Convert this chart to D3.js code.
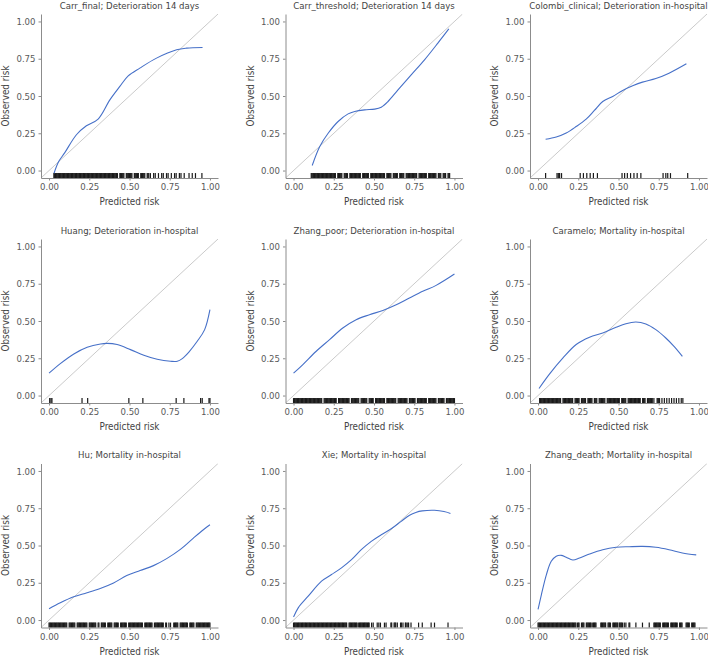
<!DOCTYPE html>
<html>
<head>
<meta charset="utf-8">
<script src="https://cdn.jsdelivr.net/npm/d3@7"></script>
<style>
  html, body { margin: 0; padding: 0; background: #fff; }
  svg text { font-family: "Liberation Sans Narrow", "DejaVu Sans Condensed", "Roboto", sans-serif; }
</style>
</head>
<body>
<svg id="chart" width="708" height="657"></svg>
<script>
// ---------- data ----------
const titles = [
  "Carr_final; Deterioration 14 days",
  "Carr_threshold; Deterioration 14 days",
  "Colombi_clinical; Deterioration in-hospital",
  "Huang; Deterioration in-hospital",
  "Zhang_poor; Deterioration in-hospital",
  "Caramelo; Mortality in-hospital",
  "Hu; Mortality in-hospital",
  "Xie; Mortality in-hospital",
  "Zhang_death; Mortality in-hospital"
];
const tickValues = [0, 0.25, 0.5, 0.75, 1];
const xLabel = "Predicted risk";
const yLabel = "Observed risk";

// calibration curves (predicted, observed)
const carrFinalX = [0.031, 0.06, 0.098, 0.17, 0.232, 0.305, 0.378, 0.44, 0.492, 0.564, 0.668, 0.793, 0.855, 0.954];
const carrFinalY = [-0.018, 0.06, 0.12, 0.24, 0.30, 0.345, 0.474, 0.564, 0.635, 0.687, 0.754, 0.81, 0.821, 0.825];

const carrThresholdX = [0.116, 0.163, 0.215, 0.277, 0.339, 0.38, 0.442, 0.504, 0.545, 0.587, 0.649, 0.731, 0.814, 0.897, 0.965];
const carrThresholdY = [0.034, 0.161, 0.25, 0.329, 0.38, 0.396, 0.407, 0.412, 0.425, 0.463, 0.541, 0.642, 0.743, 0.855, 0.95];

const colombiX = [0.047, 0.113, 0.175, 0.237, 0.299, 0.35, 0.402, 0.464, 0.526, 0.588, 0.649, 0.732, 0.814, 0.922];
const colombiY = [0.21, 0.225, 0.252, 0.295, 0.345, 0.403, 0.463, 0.497, 0.537, 0.568, 0.593, 0.617, 0.653, 0.716];

const huangX = [0.0, 0.07, 0.154, 0.237, 0.32, 0.361, 0.423, 0.506, 0.589, 0.672, 0.755, 0.797, 0.828, 0.869, 0.921, 0.967, 1.0];
const huangY = [0.15, 0.214, 0.279, 0.324, 0.346, 0.35, 0.342, 0.308, 0.27, 0.243, 0.23, 0.23, 0.248, 0.292, 0.364, 0.442, 0.576];

const zhangPoorX = [0.0, 0.058, 0.141, 0.224, 0.306, 0.389, 0.472, 0.555, 0.638, 0.72, 0.803, 0.886, 1.0];
const zhangPoorY = [0.15, 0.208, 0.297, 0.375, 0.453, 0.509, 0.542, 0.571, 0.609, 0.654, 0.699, 0.739, 0.815];

const carameloX = [0.006, 0.072, 0.155, 0.237, 0.32, 0.402, 0.485, 0.546, 0.608, 0.67, 0.732, 0.794, 0.845, 0.897];
const carameloY = [0.047, 0.145, 0.252, 0.342, 0.391, 0.42, 0.458, 0.482, 0.493, 0.48, 0.442, 0.386, 0.33, 0.263];

const huX = [0.0, 0.07, 0.153, 0.236, 0.318, 0.401, 0.483, 0.566, 0.649, 0.731, 0.814, 0.897, 0.959, 1.0];
const huY = [0.076, 0.116, 0.156, 0.183, 0.212, 0.249, 0.298, 0.332, 0.365, 0.412, 0.472, 0.55, 0.606, 0.639];

const xieX = [0.0, 0.029, 0.091, 0.174, 0.236, 0.298, 0.36, 0.421, 0.483, 0.545, 0.607, 0.669, 0.721, 0.76, 0.8, 0.876, 0.935, 0.975];
const xieY = [0.02, 0.082, 0.16, 0.261, 0.305, 0.35, 0.405, 0.472, 0.528, 0.572, 0.612, 0.662, 0.703, 0.722, 0.732, 0.736, 0.728, 0.715];

const zhangDeathX = [0.0, 0.021, 0.052, 0.082, 0.113, 0.144, 0.175, 0.216, 0.258, 0.32, 0.402, 0.485, 0.567, 0.649, 0.732, 0.814, 0.897, 0.983];
const zhangDeathY = [0.071, 0.171, 0.305, 0.394, 0.428, 0.434, 0.421, 0.403, 0.416, 0.443, 0.472, 0.488, 0.492, 0.494, 0.488, 0.472, 0.45, 0.437];

// rug (individual predicted risks)
const carrFinalRug = [
  .030,.035,.040,.045,.050,.055,.060,.065,.070,.075,.080,.085,.090,.095,.100,.105,.110,.115,.120,.125,
  .130,.135,.140,.145,.150,.155,.160,.165,.170,.175,.180,.185,.190,.195,.200,.205,.210,.215,.220,.225,
  .230,.235,.240,.245,.250,.255,.260,.265,.270,.275,.280,.285,.290,.295,.300,.305,.310,.315,.320,.325,
  .330,.335,.340,.345,.350,.355,.360,.365,.370,.375,.380,.385,.390,.395,.400,
  .405,.41,.415,.42,.425,.44,.445,.45,.455,.46,.465,.48,.485,.49,.495,.50,.505,.51,.515,.53,.535,.54,.545,.55,.555,
  .57,.575,.58,.585,.59,.595,.61,.615,.62,
  .63,.65,.66,.68,.70,.71,.73,.74,.76,.78,.79,.81,.82,.84,.87,.89,.91,.95];
const carrThresholdRug = [
  .110,.115,.120,.125,.130,.135,.140,.145,.150,.155,.160,.165,.170,.175,.180,.185,.190,.195,.200,.205,
  .210,.215,.220,.225,.230,.235,.240,.245,.250,.255,.260,
  .275,.28,.285,.29,.295,.30,.315,.32,.325,.33,.335,.35,.355,.36,.365,.37,.375,.38,.385,.39,.395,.40,.405,.41,.415,
  .43,.435,.44,.445,.45,.455,.46,.465,.48,.485,.49,.495,.50,.505,.51,.515,.52,.525,.53,.535,.54,.545,.55,.555,.56,.565,
  .58,.585,.59,.595,.60,.605,.62,.625,.63,.635,.64,.645,.66,.665,.67,.675,.68,.685,
  .70,.705,.71,.715,.72,.725,.73,.735,.74,.745,.75,.755,.76,.765,.78,.785,.79,.795,.80,.805,.81,.815,.82,.825,
  .84,.845,.85,.855,.86,.865,.87,.875,.88,.885,.90,.905,.91,.915,.93,.935,.94,.945,.96,.965,.97];
const colombiRug = [0.047,0.118,0.126,0.134,0.146,0.262,0.282,0.303,0.324,0.344,0.369,0.522,0.538,0.555,0.575,0.596,0.616,0.639,0.777,0.794,0.806,0.823,0.93];
const huangRug = [0.004,0.012,0.018,0.205,0.24,0.496,0.583,0.79,0.838,0.942,0.952,0.994,1.0];
const zhangPoorRug = [
  .000,.005,.010,.015,.020,.025,.030,.035,.040,.045,.050,.055,.060,.065,.070,.075,.080,.085,.090,.095,
  .100,.105,.110,.115,.120,.125,.130,.135,.140,.145,.150,.155,.160,.165,.170,.175,
  .19,.195,.20,.205,.21,.215,.22,.225,.23,.235,.24,.245,.25,.255,.26,.265,
  .28,.285,.29,.295,.30,.305,.31,.315,.32,.325,.33,.335,.34,.345,.36,.365,.37,.375,.38,.385,.39,.395,.40,.405,
  .42,.425,.43,.435,.44,.445,.45,.455,.47,.475,.48,.485,.49,.495,.51,.515,.52,.525,.53,.535,.54,.545,.55,.555,.56,.565,
  .58,.585,.59,.595,.60,.605,.61,.615,.62,.625,.63,.635,.65,.655,.66,.665,.67,.675,.68,.685,.69,.695,.70,.705,
  .72,.725,.73,.735,.74,.745,.75,.755,.77,.775,.78,.785,.79,.795,.80,.805,.81,.815,.82,.825,
  .84,.845,.85,.855,.86,.865,.87,.875,.88,.885,.90,.905,.91,.915,.92,.925,.93,.935,.95,.955,.96,.965,.97,.975,.98,.985,.99,.995,1.00];
const carameloRug = [
  .010,.015,.020,.025,.030,.035,.040,.045,.050,.055,.060,.065,.070,.075,.080,.085,.090,.095,.100,.105,
  .110,.115,.120,.125,.130,.135,.140,
  .155,.16,.165,.17,.175,.18,.185,.19,.195,.20,.205,.21,.215,.23,.235,.24,.245,.25,.255,.27,.275,.28,.285,.29,.295,
  .31,.315,.32,.325,.33,.335,.35,.355,.36,.365,.38,.385,.39,.395,.40,.405,.41,.415,
  .43,.435,.44,.445,.45,.455,.46,.465,.47,.475,.48,.485,.49,.495,.50,.505,.52,.525,.53,.535,.54,.545,
  .56,.565,.57,.575,.58,.585,.59,.595,.60,.605,.61,.615,.62,.625,.63,.635,.65,.655,.66,.665,
  .68,.685,.69,.695,.70,.705,.71,.72,.74,.745,.75,.755,.77,.785,.80,.815,.83,.845,.86,.875,.89,.90];
const huRug = [
  .000,.005,.010,.015,.020,.025,.030,.035,.040,.045,.050,.055,.060,.065,.070,
  .075,.08,.085,.09,.095,.10,.105,.11,.125,.13,.135,.14,.145,.15,.155,.16,.175,.18,.185,.19,.195,.20,.205,.21,.215,.22,.225,.23,.235,
  .25,.255,.26,.265,.27,.275,.28,.285,.29,.305,.31,.325,.33,.335,.34,.345,.35,.365,.37,.375,.38,.385,.39,
  .405,.41,.415,.42,.425,.43,.445,.45,.455,.46,.465,.47,.475,.48,.495,.50,.505,.51,.515,.52,.525,.53,.535,.54,.545,.55,.555,.56,.565,.57,.575,.58,
  .595,.60,.605,.61,.615,.62,.625,.63,.635,.64,.655,.66,.665,.67,.675,.68,.685,.69,.695,.70,.705,.71,.725,.73,.745,.755,
  .775,.78,.785,.79,.795,.80,.815,.82,.825,.83,.835,.84,.845,.85,.855,.86,.875,.88,.885,.89,.895,.90,
  .915,.92,.925,.93,.935,.94,.945,.95,.955,.96,.965,.97,.975,.98,.985,.99,.995,1.00];
const xieRug = [
  .000,.005,.010,.015,.020,.025,.030,.035,.040,.045,.050,.055,.060,.065,.070,.075,.080,.085,.090,.095,
  .100,.105,.110,.115,.120,.125,.130,.135,.140,.145,.150,.155,.160,.165,.170,.175,.180,.185,.190,.195,
  .200,.205,.210,.215,.220,.225,.230,.235,.240,.245,.250,.255,.260,.265,.270,.275,.280,
  .285,.29,.295,.30,.305,.31,.315,.32,.325,.33,.345,.35,.355,.36,.365,.37,.375,.38,.385,.39,.395,
  .405,.41,.415,.42,.425,.43,.435,.44,.445,.45,.455,.46,.465,.47,
  .485,.495,.52,.53,.54,.565,.575,.605,.61,.625,.63,.635,.645,.665,.67,.68,.695,.70,.71,.715,.73,.777,.80,.855,.876,.96];
const zhangDeathRug = [
  .000,.005,.010,.015,.020,.025,.030,.035,.040,.045,.050,.055,.060,.065,.070,.075,.080,.085,.090,.095,
  .100,.105,.110,.115,.120,.125,.130,.135,.140,.145,.150,.155,.160,.165,.170,.175,.180,.185,.190,.195,.200,
  .205,.21,.215,.22,.225,.23,.235,.245,.25,.255,.27,.275,.28,.285,.30,.305,.31,.315,.32,.325,.33,
  .34,.345,.35,.355,.36,.39,.395,.40,.405,.41,.415,.42,.435,.44,.445,.45,.465,.47,.475,.48,.485,.49,.495,
  .505,.51,.515,.52,.525,.536,.546,.565,.57,.608,.649,.691,
  .72,.725,.73,.735,.74,.745,.75,.755,.76,.775,.78,.785,.79,.795,.80,.805,.81,
  .825,.83,.835,.84,.845,.85,.855,.86,.865,.88,.885,.89,.895,.92,.925,.93,.935,.94,.955,.96,.965,.97,.975];

const curveXs = [carrFinalX, carrThresholdX, colombiX, huangX, zhangPoorX, carameloX, huX, xieX, zhangDeathX];
const curveYs = [carrFinalY, carrThresholdY, colombiY, huangY, zhangPoorY, carameloY, huY, xieY, zhangDeathY];
const rugs = [carrFinalRug, carrThresholdRug, colombiRug, huangRug, zhangPoorRug, carameloRug, huRug, xieRug, zhangDeathRug];

// ---------- layout ----------
const colLeft = [41, 285.5, 530];
const rowTop = [14, 239, 463.5];
const pw = 177, ph = 164;

const svg = d3.select("#chart");
const x = d3.scaleLinear().domain([-0.05, 1.05]).range([0, pw]);
const y = d3.scaleLinear().domain([-0.05, 1.05]).range([ph, 0]);
const fmt = d3.format(".2f");

const line = d3.line()
  .x(d => x(d[0]))
  .y(d => y(d[1]))
  .curve(d3.curveCatmullRom.alpha(0.5));

titles.forEach((title, i) => {
  const col = i % 3, row = Math.floor(i / 3);
  const g = svg.append("g").attr("transform", `translate(${colLeft[col]},${rowTop[row]})`);

  const clipId = "clip" + i;
  g.append("clipPath").attr("id", clipId)
    .append("rect").attr("width", pw).attr("height", ph);

  // diagonal reference
  g.append("line")
    .attr("x1", x(-0.05)).attr("y1", y(-0.05))
    .attr("x2", x(1.05)).attr("y2", y(1.05))
    .attr("stroke", "#a6a6a6").attr("stroke-width", 0.6)
    .attr("clip-path", `url(#${clipId})`);

  // rug
  g.append("g").selectAll("line").data(rugs[i]).join("line")
    .attr("x1", d => x(d)).attr("x2", d => x(d))
    .attr("y1", ph).attr("y2", ph - 0.03 * ph)
    .attr("stroke", "#1a1a1a").attr("stroke-width", 1.2);

  // calibration curve
  const pts = curveXs[i].map((v, k) => [v, curveYs[i][k]]);
  g.append("path").datum(pts)
    .attr("d", line)
    .attr("fill", "none")
    .attr("stroke", "#4670c8").attr("stroke-width", 1.1)
    .attr("clip-path", `url(#${clipId})`);

  // axes
  const ax = g.append("g").attr("transform", `translate(0,${ph})`)
    .call(d3.axisBottom(x).tickValues(tickValues).tickFormat(fmt).tickSize(2.5).tickSizeOuter(0).tickPadding(3));
  const ay = g.append("g")
    .call(d3.axisLeft(y).tickValues(tickValues).tickFormat(fmt).tickSize(2.5).tickSizeOuter(0).tickPadding(3));
  [ax, ay].forEach(a => {
    a.select(".domain").attr("stroke", "#8c8c8c").attr("stroke-width", 1);
    a.selectAll(".tick line").attr("stroke", "#8c8c8c");
    a.selectAll(".tick text").attr("fill", "#595959").style("font-size", "9.5px");
  });

  // title
  g.append("text")
    .attr("x", pw / 2).attr("y", -5.5)
    .attr("text-anchor", "middle")
    .attr("fill", "#444")
    .style("font-size", "9.5px")
    .text(title);

  // axis titles
  g.append("text")
    .attr("x", pw / 2).attr("y", ph + 27)
    .attr("text-anchor", "middle")
    .attr("fill", "#444")
    .style("font-size", "9.8px")
    .text(xLabel);
  g.append("text")
    .attr("transform", `translate(-32,${ph / 2}) rotate(-90)`)
    .attr("text-anchor", "middle")
    .attr("fill", "#444")
    .style("font-size", "9.8px")
    .text(yLabel);
});
</script>
</body>
</html>
